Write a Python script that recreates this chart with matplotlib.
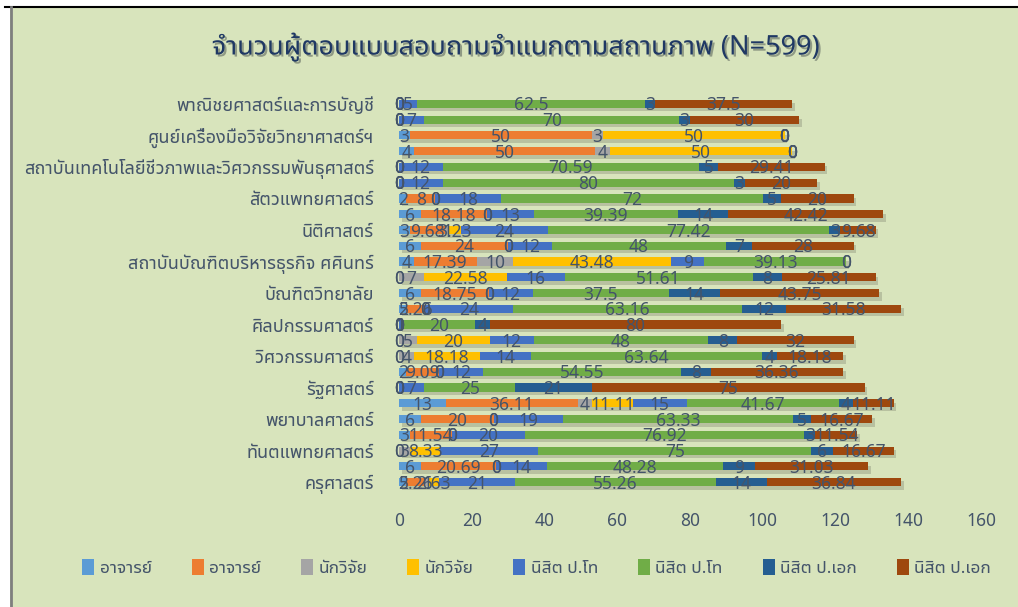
import matplotlib
matplotlib.use('Agg')
import matplotlib.pyplot as plt
import matplotlib.patheffects as pe
from matplotlib import font_manager
from matplotlib.ft2font import FT2Font
import numpy as np

# faculties, top to bottom (only every other name is shown on the axis)
faculties = ['พาณิชยศาสตร์และการบัญชี', '',
             'ศูนย์เครื่องมือวิจัยวิทยาศาสตร์ฯ', '',
             'สถาบันเทคโนโลยีชีวภาพและวิศวกรรมพันธุศาสตร์', '',
             'สัตวแพทยศาสตร์', '',
             'นิติศาสตร์', '',
             'สถาบันบัณฑิตบริหารธุรกิจ ศศินทร์', '',
             'บัณฑิตวิทยาลัย', '',
             'ศิลปกรรมศาสตร์', '',
             'วิศวกรรมศาสตร์', '',
             'รัฐศาสตร์', '',
             'พยาบาลศาสตร์', '',
             'ทันตแพทยศาสตร์', '',
             'ครุศาสตร์']

# counts (n) and percentages (p) per status
aj_n = [0, 0, 3, 4, 0, 0, 2, 6, 3, 6, 4, 0, 6, 2, 0, 0, 0, 2, 0, 13, 6, 3, 0, 6, 2]
aj_p = [0, 0, 50, 50, 0, 0, 8, 18.18, 9.68, 24, 17.39, 0, 18.75, 5.26, 0, 0, 0, 9.09, 0, 36.11, 20, 11.54, 0, 20.69, 5.26]
res_n = [0, 0, 3, 4, 0, 0, 0, 0, 1, 0, 10, 7, 0, 0, 0, 5, 4, 0, 0, 4, 0, 0, 3, 0, 1]
res_p = [0, 0, 50, 50, 0, 0, 0, 0, 3.23, 0, 43.48, 22.58, 0, 0, 0, 20, 18.18, 0, 0, 11.11, 0, 0, 8.33, 0, 2.63]
ms_n = [5, 7, 0, 0, 12, 12, 18, 13, 24, 12, 9, 16, 12, 24, 1, 12, 14, 12, 7, 15, 19, 20, 27, 14, 21]
ms_p = [62.5, 70, 0, 0, 70.59, 80, 72, 39.39, 77.42, 48, 39.13, 51.61, 37.5, 63.16, 20, 48, 63.64, 54.55, 25, 41.67, 63.33, 76.92, 75, 48.28, 55.26]
phd_n = [3, 3, 0, 0, 5, 3, 5, 14, 3, 7, 0, 8, 14, 12, 4, 8, 4, 8, 21, 4, 5, 3, 6, 9, 14]
phd_p = [37.5, 30, 0, 0, 29.41, 20, 20, 42.42, 9.68, 28, 0, 25.81, 43.75, 31.58, 80, 32, 18.18, 36.36, 75, 11.11, 16.67, 11.54, 16.67, 31.03, 36.84]

series_names = ['อาจารย์', 'อาจารย์', 'นักวิจัย', 'นักวิจัย',
                'นิสิต ป.โท', 'นิสิต ป.โท', 'นิสิต ป.เอก', 'นิสิต ป.เอก']
series = [aj_n, aj_p, res_n, res_p, ms_n, ms_p, phd_n, phd_p]
colors = ['#5B9BD5', '#ED7D31', '#A5A5A5', '#FFC000',
          '#4472C4', '#70AD47', '#255E91', '#9E480E']

# find a font that has Thai glyphs
thai_font = None
cands = []
for f in font_manager.fontManager.ttflist:
    try:
        if ord('ก') in FT2Font(f.fname).get_charmap():
            cands.append(f.name)
    except Exception:
        pass
for pref in ['Tahoma', 'Leelawadee UI', 'Leelawadee', 'Noto Sans Thai UI', 'Noto Sans Thai',
             'Loma', 'Garuda', 'Sarabun', 'Kinnari']:
    if pref in cands:
        thai_font = pref
        break
if thai_font is None and cands:
    thai_font = cands[0]
# latin/digits from Noto Sans, thai glyphs from the thai font
plt.rcParams['font.family'] = ['Noto Sans'] + ([thai_font] if thai_font else []) + ['DejaVu Sans']

bg = '#D8E4BC'
txt = '#44546A'

fig = plt.figure(figsize=(10.18, 6.07), dpi=100, facecolor='white')
# chart area with frame
fig.patches.append(plt.Rectangle((10 / 1018, 0), 1 - 10 / 1018, 1 - 7 / 607, transform=fig.transFigure,
                                 facecolor=bg, edgecolor='none', zorder=-2))
fig.add_artist(plt.Line2D([5 / 1018, 1], [1 - 7 / 607, 1 - 7 / 607], transform=fig.transFigure,
                          color='black', lw=1.5))
fig.add_artist(plt.Line2D([11 / 1018, 11 / 1018], [0, 1 - 7 / 607], transform=fig.transFigure,
                          color='#7F7F7F', lw=2))

ax = fig.add_axes([399 / 1018, 1 - 490 / 607, 582 / 1018, 394 / 607])
ax.patch.set_alpha(0)

y = np.arange(len(faculties))
left = np.zeros(len(faculties))
shadow = [pe.SimplePatchShadow(offset=(2, -2.5), shadow_rgbFace='#707060', alpha=0.3), pe.Normal()]
for i, vals in enumerate(series):
    vals = np.array(vals, dtype=float)
    ax.barh(y, vals, left=left, height=0.52, color=colors[i], label=series_names[i],
            path_effects=shadow)
    for j, v in enumerate(vals):
        lab = '%d' % v if i % 2 == 0 else '%g' % v
        ax.text(left[j] + v / 2, y[j] + 0.1, lab, ha='center', va='center', fontsize=12.5, color=txt)
    left += vals

ax.set_xlim(0, 160)
ax.set_ylim(len(faculties) - 0.5, -0.5)
ax.set_xticks(np.arange(0, 161, 20))
ax.set_yticks(y)
ax.set_yticklabels(faculties)
ax.tick_params(axis='both', length=0, colors=txt)
ax.tick_params(axis='y', pad=18, labelsize=13)
ax.tick_params(axis='x', pad=16, labelsize=12.5)
for s in ax.spines.values():
    s.set_visible(False)

fig.text(0.507, 1 - 47 / 607, 'จำนวนผู้ตอบแบบสอบถามจำแนกตามสถานภาพ (N=599)', ha='center', va='center',
         fontsize=19.5, fontweight='bold', color='#1F3864',
         path_effects=[pe.SimplePatchShadow(offset=(1.5, -1.5), alpha=0.35), pe.Normal()])

leg = fig.legend(loc='center', bbox_to_anchor=(0.527, 1 - 568 / 607), ncol=8, frameon=False,
                 fontsize=12.5, handlelength=0.7, handleheight=1.0, handletextpad=0.3, columnspacing=2.3,
                 labelcolor=txt)
for h in leg.legend_handles:
    h.set_path_effects([])

plt.savefig('out.png', dpi=100, facecolor='white')
